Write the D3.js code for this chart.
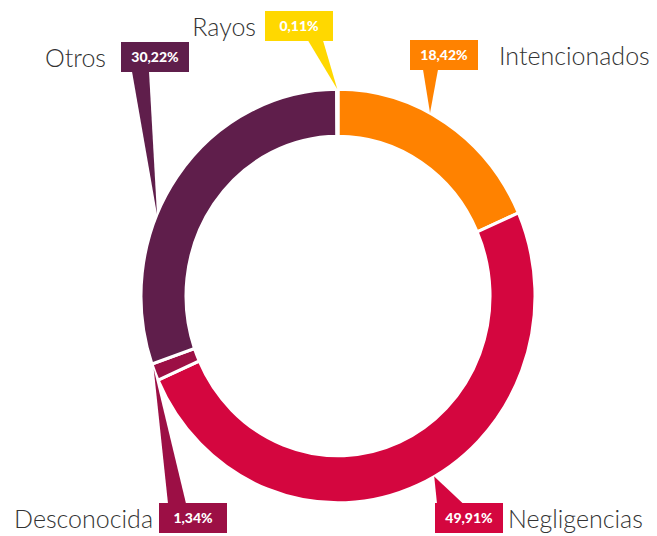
<!DOCTYPE html>
<html>
<head>
<meta charset="utf-8">
<script src="https://cdn.jsdelivr.net/npm/d3@7"></script>
<style>
	body { margin: 0; background: #fff; }
	svg { display: block; }
</style>
</head>
<body>
<div id="chart"></div>
<script>
/**
 * Donut chart of fire causes, with callout labels
 */

// Data
var categories = ["Intencionados", "Negligencias", "Desconocida", "Otros", "Rayos"];
var values = [18.42, 49.91, 1.34, 30.22, 0.11];
var colors = ["#ff8200", "#d4063f", "#9c0f45", "#5f1e4b", "#ffd800"];

// Where each callout box sits; tip is the fraction along its slice
var callouts = [
	{ x: 410, y: 40, base: [13, 28], side: "right", gap: 21, tip: 0.42 },
	{ x: 435, y: 503, base: [2, 28], side: "right", gap: 5, tip: 0.47 },
	{ x: 159, y: 503, base: [9, 27], side: "left", gap: 6, tip: 0.69 },
	{ x: 121, y: 42, base: [11, 28], side: "left", gap: 15, tip: 0.39 },
	{ x: 265, y: 11, base: [43, 58], side: "left", gap: 9, tip: 0.5 }
];

var width = 657, height = 536;
var cx = 338, cy = 296, outerR = 197, innerR = 152, stretch = 1.05;
var boxW = 68, boxH = 30;

var es = d3.formatLocale({ decimal: ",", thousands: ".", grouping: [3], currency: ["", "€"] });
var fmt = function(v) { return es.format(".2f")(v) + "%"; };

var svg = d3.select("#chart").append("svg")
	.attr("width", width)
	.attr("height", height);

var pie = d3.pie().sort(null).value(function(d) { return d; });
var arcs = pie(values);

var arc = d3.arc().innerRadius(innerR).outerRadius(outerR);

// Ring
svg.append("g")
	.attr("transform", "translate(" + cx + "," + cy + ") scale(1," + stretch + ")")
	.selectAll("path")
	.data(arcs)
	.enter().append("path")
	.attr("d", arc)
	.attr("fill", function(d, i) { return colors[i]; })
	.attr("stroke", "#fff")
	.attr("stroke-width", 3)
	.attr("stroke-linejoin", "round");

// Callouts
var labels = svg.append("g");

arcs.forEach(function(d, i) {
	var c = callouts[i];
	var a = d.startAngle + (d.endAngle - d.startAngle) * c.tip;
	var r = outerR;
	var tx = cx + Math.sin(a) * r;
	var ty = cy - Math.cos(a) * r * stretch;
	var below = ty > c.y;
	var by = below ? c.y + boxH - 0.5 : c.y + 0.5;

	labels.append("path")
		.attr("d", "M" + (c.x + c.base[0]) + "," + by + "L" + tx + "," + ty + "L" + (c.x + c.base[1]) + "," + by + "Z")
		.attr("fill", colors[i]);

	labels.append("rect")
		.attr("x", c.x)
		.attr("y", c.y)
		.attr("width", boxW)
		.attr("height", boxH)
		.attr("fill", colors[i]);

	labels.append("text")
		.attr("x", c.x + boxW / 2)
		.attr("y", c.y + 20)
		.attr("text-anchor", "middle")
		.attr("fill", "#fff")
		.style("font", "900 14px Lato, 'Open Sans', sans-serif")
		.text(fmt(values[i]));

	labels.append("text")
		.attr("x", c.side == "left" ? c.x - c.gap : c.x + boxW + c.gap)
		.attr("y", c.y + 25)
		.attr("text-anchor", c.side == "left" ? "end" : "start")
		.attr("fill", "#333")
		.style("font", "300 25px Lato, 'Open Sans', sans-serif")
		.text(categories[i]);
});
</script>
</body>
</html>
